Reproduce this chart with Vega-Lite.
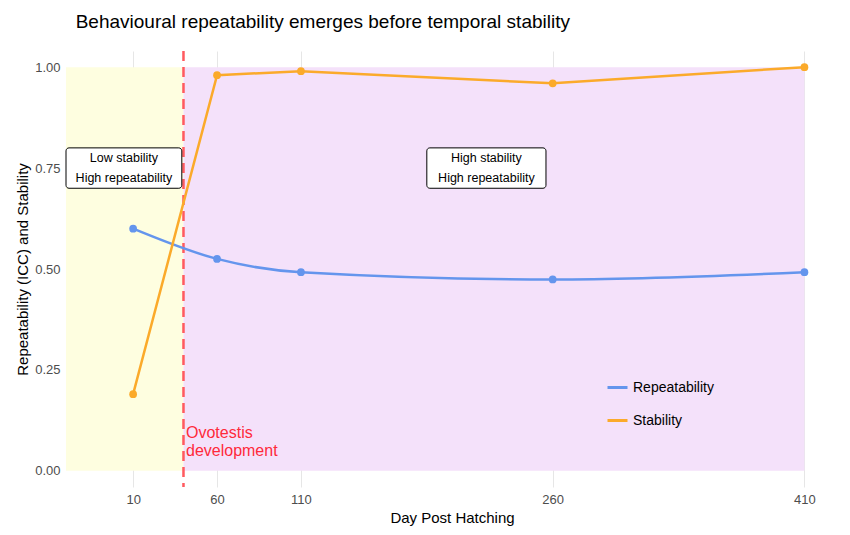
{
"$schema":"https://vega.github.io/schema/vega-lite/v6.json",
"autosize":{"type":"fit","contains":"padding"},
"width":850,"height":535,
"padding":{"left":15,"top":12,"right":12,"bottom":10},
"background":"white",
"title":{"text":"Behavioural repeatability emerges before temporal stability","anchor":"start","fontSize":19,"fontWeight":"normal","font":"Liberation Sans","color":"black","offset":18,"dx":60},
"config":{"view":{"stroke":null},"font":"Liberation Sans",
"axis":{"gridColor":"#e6e6e6","domain":false,"ticks":false,"labelColor":"#4d4d4d","labelFontSize":13,"titleFontSize":15,"titleFontWeight":"normal","titleColor":"black","labelPadding":6}},
"datasets":{
"main":[
{"day":10,"measure":"Repeatability","value":0.60},
{"day":60,"measure":"Repeatability","value":0.525},
{"day":110,"measure":"Repeatability","value":0.492},
{"day":260,"measure":"Repeatability","value":0.474},
{"day":410,"measure":"Repeatability","value":0.492},
{"day":10,"measure":"Stability","value":0.19},
{"day":60,"measure":"Stability","value":0.98},
{"day":110,"measure":"Stability","value":0.99},
{"day":260,"measure":"Stability","value":0.96},
{"day":410,"measure":"Stability","value":1.0}],
"regions":[{"x1":-30,"x2":40,"col":"#FEFEE0"},{"x1":40,"x2":410,"col":"#F4E1FA"}],
"boxes":[{"x1":-30,"x2":39,"y1":0.70,"y2":0.80,"xc":4.5,"l1":"Low stability","l2":"High repeatability"},
{"x1":185,"x2":256,"y1":0.70,"y2":0.80,"xc":220.5,"l1":"High stability","l2":"High repeatability"}]
},
"layer":[
{"data":{"name":"regions"},"mark":{"type":"rect"},
 "encoding":{"x":{"field":"x1","type":"quantitative","scale":{"domain":[-30,430],"nice":false,"zero":false},"axis":{"values":[10,60,110,260,410],"title":"Day Post Hatching"}},
 "x2":{"field":"x2"},"y":{"datum":0,"type":"quantitative"},"y2":{"datum":1},
 "color":{"field":"col","type":"nominal","scale":null}}},
{"data":{"values":[{"d":40}]},"mark":{"type":"rule","color":"#FF5A5F","strokeWidth":2.5,"strokeDash":[10,6]},
 "encoding":{"x":{"field":"d","type":"quantitative"}}},
{"data":{"values":[{"d":41.5,"t":"Ovotestis","y":0.095},{"d":41.5,"t":"development","y":0.05}]},"mark":{"type":"text","align":"left","color":"#FF2A3A","fontSize":16},
 "encoding":{"x":{"field":"d","type":"quantitative"},"y":{"field":"y","type":"quantitative"},"text":{"field":"t"}}},
{"data":{"name":"main"},"transform":[{"filter":"datum.measure=='Repeatability'"}],"mark":{"type":"line","interpolate":"monotone","strokeWidth":2.5},
 "encoding":{"x":{"field":"day","type":"quantitative"},
 "y":{"field":"value","type":"quantitative","scale":{"domain":[-0.04,1.04],"nice":false},"axis":{"values":[0,0.25,0.5,0.75,1],"format":".2f","title":"Repeatability (ICC) and Stability"}},
 "color":{"field":"measure","type":"nominal","scale":{"domain":["Repeatability","Stability"],"range":["#6495ED","#FBAA2A"]},
  "legend":{"title":null,"orient":"none","legendX":540,"legendY":325,"labelFontSize":14,"labelColor":"black","symbolType":"stroke","symbolStrokeWidth":3,"symbolSize":400,"rowPadding":14}}}},
{"data":{"name":"main"},"transform":[{"filter":"datum.measure=='Stability'"}],"mark":{"type":"line","strokeWidth":2.5},
 "encoding":{"x":{"field":"day","type":"quantitative"},"y":{"field":"value","type":"quantitative"},
 "color":{"field":"measure","type":"nominal","legend":null}}},
{"data":{"name":"main"},"mark":{"type":"point","filled":true,"size":60,"opacity":1},
 "encoding":{"x":{"field":"day","type":"quantitative"},"y":{"field":"value","type":"quantitative"},
 "color":{"field":"measure","type":"nominal","legend":null}}},
{"data":{"name":"boxes"},"mark":{"type":"rect","fill":"white","stroke":"black","strokeWidth":1,"cornerRadius":3},
 "encoding":{"x":{"field":"x1","type":"quantitative"},"x2":{"field":"x2"},"y":{"field":"y1","type":"quantitative"},"y2":{"field":"y2"}}},
{"data":{"name":"boxes"},"mark":{"type":"text","fontSize":12.5,"dy":-10,"color":"black"},
 "encoding":{"x":{"field":"xc","type":"quantitative"},"y":{"datum":0.75,"type":"quantitative"},"text":{"field":"l1"}}},
{"data":{"name":"boxes"},"mark":{"type":"text","fontSize":12.5,"dy":10,"color":"black"},
 "encoding":{"x":{"field":"xc","type":"quantitative"},"y":{"datum":0.75,"type":"quantitative"},"text":{"field":"l2"}}}
]
}
